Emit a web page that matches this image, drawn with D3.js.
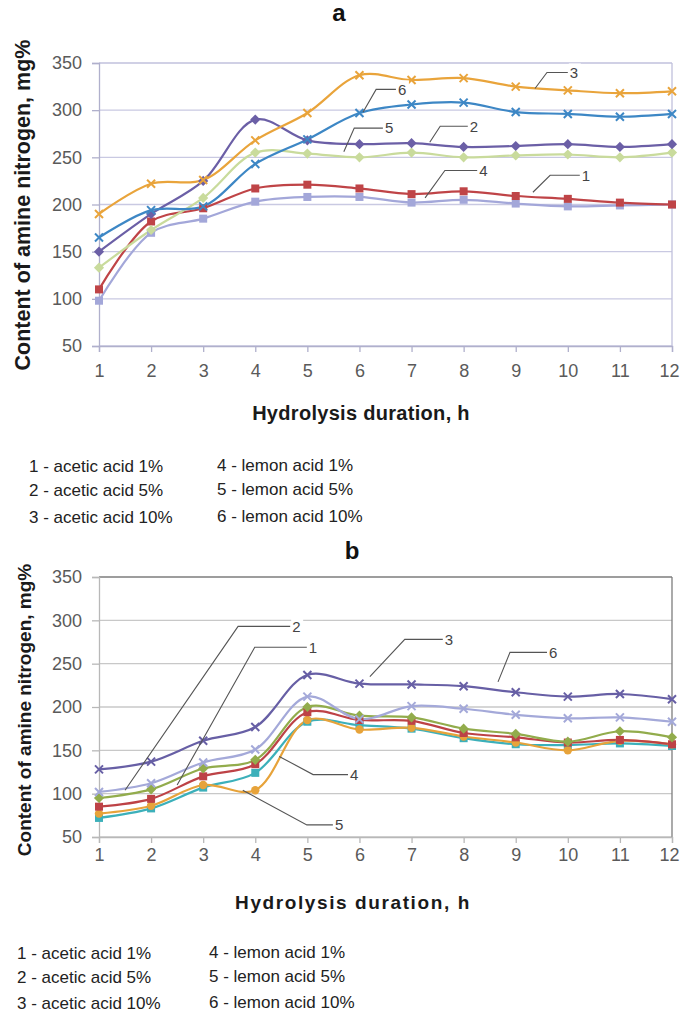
<!DOCTYPE html>
<html>
<head>
<meta charset="utf-8">
<script src="https://cdn.jsdelivr.net/npm/d3@7"></script>
<style>
  body { margin: 0; background: #fff; }
  svg text { font-family: "Liberation Sans", Arial, sans-serif; }
</style>
</head>
<body>
<div id="chart"></div>
<script>
//***************************************************** */
// DATA
//***************************************************** */

var hours = [1, 2, 3, 4, 5, 6, 7, 8, 9, 10, 11, 12];
var yTicks = [50, 100, 150, 200, 250, 300, 350];
var legendLeft = ["1 - acetic acid 1%", "2 - acetic acid 5%", "3 - acetic acid 10%"];
var legendRight = ["4 - lemon acid 1%", "5 - lemon acid 5%", "6 - lemon acid 10%"];

// chart a
var aAcetic1 = [110, 182, 196, 217, 221, 217, 211, 214, 209, 206, 202, 200];
var aAcetic5 = [150, 190, 225, 290, 268, 264, 265, 261, 262, 264, 261, 264];
var aAcetic10 = [190, 222, 226, 268, 297, 337, 332, 334, 325, 321, 318, 320];
var aLemon1 = [98, 170, 185, 203, 208, 208, 202, 205, 201, 198, 199, 200];
var aLemon5 = [133, 173, 207, 255, 254, 250, 255, 250, 252, 253, 250, 255];
var aLemon10 = [165, 194, 198, 243, 269, 297, 306, 308, 298, 296, 293, 296];

// chart b
var bAcetic1 = [85, 94, 120, 134, 194, 185, 184, 170, 165, 159, 162, 157];
var bAcetic5 = [102, 112, 136, 151, 212, 186, 201, 198, 191, 187, 188, 183];
var bAcetic10 = [95, 105, 129, 139, 200, 190, 188, 175, 169, 160, 172, 165];
var bLemon1 = [72, 83, 107, 124, 183, 179, 175, 164, 157, 156, 158, 155];
var bLemon5 = [77, 86, 110, 104, 185, 174, 176, 166, 159, 150, 161, 157];
var bLemon10 = [128, 137, 161, 177, 237, 227, 226, 224, 217, 212, 215, 209];

// callouts: label, point (h, mg%), corner (h, mg%), end h
var aCallouts = [
    ["1", 9.33, 213, 9.66, 231, 10.23],
    ["2", 7.35, 266, 7.55, 283, 8.08],
    ["3", 9.37, 323, 9.6, 340, 10.0],
    ["4", 7.26, 207, 7.64, 236, 8.26],
    ["5", 5.7, 256, 5.9, 281, 6.45],
    ["6", 6.07, 298, 6.32, 322, 6.7]
];
var bCallouts = [
    ["1", 2.5, 110, 3.99, 269, 4.99],
    ["2", 1.5, 104, 3.67, 293, 4.67],
    ["3", 6.2, 235, 6.87, 278, 7.6],
    ["4", 4.46, 143, 5.11, 122, 5.78],
    ["5", 3.76, 104, 4.99, 64, 5.49],
    ["6", 8.66, 229, 8.89, 263, 9.6]
];

//***************************************************** */
// SVG
//***************************************************** */

var svg = d3.select("#chart")
    .append("svg")
    .attr("width", 680)
    .attr("height", 1012)
    .style("background-color", "#fff");

var x = d3.scaleLinear().domain([1, 12]).range([99, 672]);

function drawMarker(g, type, color) {
    if (type == "x") {
        g.append("path")
            .attr("d", "M-4,-4L4,4M-4,4L4,-4")
            .attr("stroke", color)
            .attr("stroke-width", 2)
            .attr("fill", "none");
    } else if (type == "square") {
        g.append("rect")
            .attr("x", -4).attr("y", -4)
            .attr("width", 8).attr("height", 8)
            .attr("fill", color);
    } else if (type == "diamond") {
        g.append("rect")
            .attr("x", -3.6).attr("y", -3.6)
            .attr("width", 7.2).attr("height", 7.2)
            .attr("transform", "rotate(45)")
            .attr("fill", color);
    } else {
        g.append("circle").attr("r", 4.2).attr("fill", color);
    }
}

function drawChart(cfg) {
    var y = d3.scaleLinear().domain([50, 350]).range([cfg.bottom, cfg.top]);
    var g = svg.append("g");

    // title
    svg.append("text")
        .attr("x", cfg.titleX)
        .attr("y", cfg.titleY)
        .attr("text-anchor", "middle")
        .style("font-weight", "bold")
        .style("font-size", "24px")
        .attr("fill", "#111")
        .text(cfg.title);

    // gridlines
    g.selectAll(".grid")
        .data(yTicks)
        .enter()
        .append("line")
        .attr("x1", x(1)).attr("x2", x(12))
        .attr("y1", d => y(d)).attr("y2", d => y(d))
        .attr("stroke", d => (d == 350 ? cfg.borderColor : cfg.gridColor))
        .attr("stroke-width", 1.3);

    // right border
    g.append("line")
        .attr("x1", x(12)).attr("x2", x(12))
        .attr("y1", y(350)).attr("y2", y(50))
        .attr("stroke", cfg.borderColor)
        .attr("stroke-width", 1.3);

    // y axis
    var yAxis = g.append("g")
        .attr("transform", `translate(${x(1)},0)`)
        .call(d3.axisLeft(y).tickValues(yTicks).tickSize(7).tickPadding(10));
    yAxis.selectAll("text")
        .style("font-size", "18px")
        .attr("fill", "#5a5a5a");

    // x axis
    var xAxis = g.append("g")
        .attr("transform", `translate(0,${y(50)})`)
        .call(d3.axisBottom(x).tickValues(hours).tickSize(6).tickPadding(cfg.xPad));
    xAxis.selectAll("text")
        .style("font-size", "18px")
        .attr("fill", "#5a5a5a")
        .attr("dx", d => (d == 12 ? -3 : 0));

    [yAxis, xAxis].forEach(function (a) {
        a.selectAll("line").attr("stroke", cfg.axisColor).attr("stroke-width", 1.3);
        a.select(".domain").attr("stroke", cfg.axisColor).attr("stroke-width", 1.3);
    });

    // axis titles
    svg.append("text")
        .attr("transform", `translate(${cfg.yTitleX},${cfg.yTitleY}) rotate(-90)`)
        .attr("text-anchor", "middle")
        .style("font-weight", "bold")
        .style("font-size", cfg.yTitleSize + "px")
        .attr("fill", "#1a1a1a")
        .text("Content of amine nitrogen, mg%");

    svg.append("text")
        .attr("x", cfg.xTitleX)
        .attr("y", cfg.xTitleY)
        .attr("text-anchor", "middle")
        .style("font-weight", "bold")
        .style("font-size", cfg.xTitleSize + "px")
        .style("letter-spacing", cfg.xTitleSpacing + "px")
        .attr("fill", "#1a1a1a")
        .text("Hydrolysis duration, h");

    // lines
    var line = d3.line()
        .x((d, i) => x(hours[i]))
        .y(d => y(d))
        .curve(d3.curveCatmullRom.alpha(0.5));

    cfg.series.forEach(function (s) {
        g.append("path")
            .attr("d", line(s.values))
            .attr("fill", "none")
            .attr("stroke", s.color)
            .attr("stroke-width", 2.2);
    });
    cfg.series.forEach(function (s) {
        g.selectAll(null)
            .data(s.values)
            .enter()
            .append("g")
            .attr("transform", (d, i) => `translate(${x(hours[i])},${y(d)})`)
            .each(function () { drawMarker(d3.select(this), s.marker, s.color); });
    });

    // callouts
    cfg.callouts.forEach(function (c) {
        g.append("polyline")
            .attr("points", [[x(c[1]), y(c[2])], [x(c[3]), y(c[4])], [x(c[5]), y(c[4])]].join(" "))
            .attr("fill", "none")
            .attr("stroke", "#555")
            .attr("stroke-width", 1.1);
        g.append("rect")
            .attr("x", x(c[5]) + 1)
            .attr("y", y(c[4]) - 9)
            .attr("width", 12)
            .attr("height", 18)
            .attr("fill", "#fff");
        g.append("text")
            .attr("x", x(c[5]) + 2)
            .attr("y", y(c[4]))
            .attr("dy", "0.36em")
            .style("font-size", "15px")
            .attr("fill", "#444")
            .text(c[0]);
    });

    // legend
    var rows = cfg.legendRows;
    svg.selectAll(null)
        .data(legendLeft)
        .enter()
        .append("text")
        .attr("x", cfg.legendX[0])
        .attr("y", (d, i) => rows[i])
        .style("font-size", "17px")
        .attr("fill", "#222")
        .text(d => d);
    svg.selectAll(null)
        .data(legendRight)
        .enter()
        .append("text")
        .attr("x", cfg.legendX[1])
        .attr("y", (d, i) => rows[i] - 1)
        .style("font-size", "17px")
        .attr("fill", "#222")
        .text(d => d);
}

//***************************************************** */
// CHART A
//***************************************************** */
drawChart({
    title: "a", titleX: 339, titleY: 21,
    top: 63, bottom: 346,
    gridColor: "#c9c9e2", borderColor: "#c0c0dc", axisColor: "#b0b0cc",
    xPad: 12,
    yTitleX: 30, yTitleY: 205, yTitleSize: 21.5,
    xTitleX: 361, xTitleY: 420, xTitleSize: 20, xTitleSpacing: 0.3,
    legendX: [29, 217], legendRows: [472, 496, 523],
    callouts: aCallouts,
    series: [
        { values: aLemon1, color: "#a3a7d9", marker: "square" },
        { values: aAcetic1, color: "#bf4447", marker: "square" },
        { values: aLemon5, color: "#c9db9c", marker: "diamond" },
        { values: aAcetic5, color: "#6b5fa6", marker: "diamond" },
        { values: aLemon10, color: "#3d87c5", marker: "x" },
        { values: aAcetic10, color: "#e9a43b", marker: "x" }
    ]
});

//***************************************************** */
// CHART B
//***************************************************** */
drawChart({
    title: "b", titleX: 352, titleY: 559,
    top: 577, bottom: 837,
    gridColor: "#c8c8c8", borderColor: "#7d7d7d", axisColor: "#b8b8b8",
    xPad: 5,
    yTitleX: 31, yTitleY: 710, yTitleSize: 19,
    xTitleX: 353, xTitleY: 909, xTitleSize: 19, xTitleSpacing: 1.6,
    legendX: [17, 209], legendRows: [959, 983, 1009],
    callouts: bCallouts,
    series: [
        { values: bLemon1, color: "#3cb0ba", marker: "square" },
        { values: bLemon5, color: "#e7a33a", marker: "circle" },
        { values: bAcetic1, color: "#bd4246", marker: "square" },
        { values: bAcetic10, color: "#92ac4c", marker: "diamond" },
        { values: bAcetic5, color: "#a4a9d9", marker: "x" },
        { values: bLemon10, color: "#675fa5", marker: "x" }
    ]
});
</script>
</body>
</html>
